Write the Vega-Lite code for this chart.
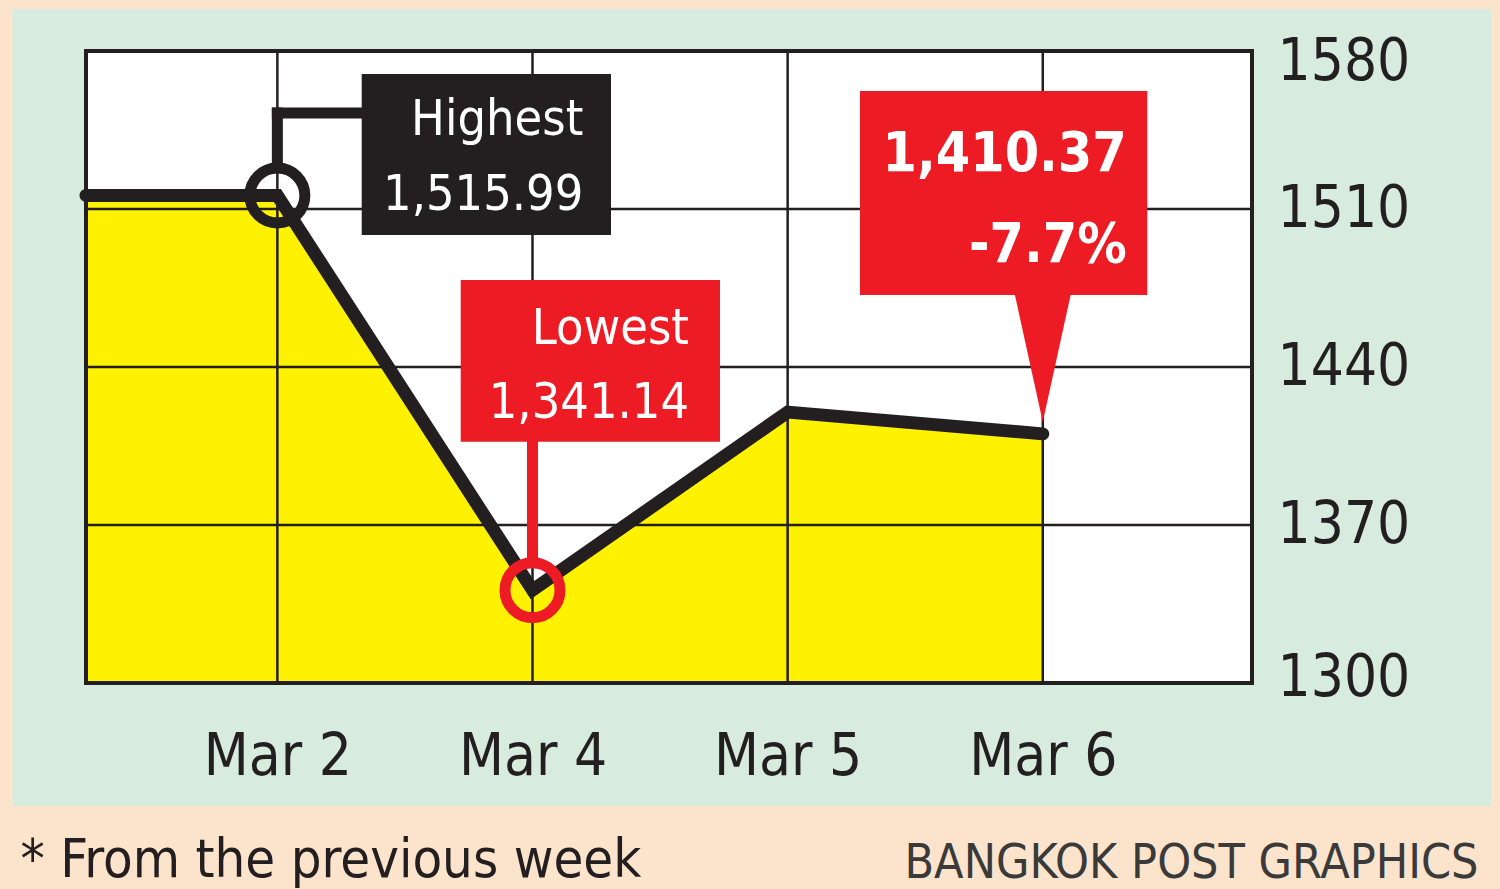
{
  "$schema": "https://vega.github.io/schema/vega-lite/v6.json",
  "width": 1166,
  "height": 632,
  "autosize": {"type": "none"},
  "padding": {"left": 86, "top": 51, "right": 248, "bottom": 206},
  "background": "#fce3cb",
  "config": {
    "view": {"stroke": null, "fill": null},
    "font": "DejaVu Sans Condensed, Liberation Sans Narrow, sans-serif"
  },
  "datasets": {
    "series": [
      {"i": 0.25, "v": 1516},
      {"i": 1, "v": 1515.99},
      {"i": 2, "v": 1341.14},
      {"i": 3, "v": 1420},
      {"i": 4, "v": 1410.37}
    ]
  },
  "layer": [
    {
      "data": {"values": [{}]},
      "mark": {"type": "rect", "color": "#d7ecde", "clip": false},
      "encoding": {
        "x": {"datum": -0.038, "type": "quantitative", "scale": {"domain": [0.25, 4.82], "nice": false, "zero": false}},
        "x2": {"datum": 5.759},
        "y": {"datum": 1598.6, "type": "quantitative", "scale": {"domain": [1300, 1580], "nice": false, "zero": false}},
        "y2": {"datum": 1245.5}
      }
    },
    {
      "data": {"values": [{}]},
      "mark": {"type": "rect", "color": "#ffffff"},
      "encoding": {
        "x": {"datum": 0.25, "type": "quantitative"},
        "x2": {"datum": 4.82},
        "y": {"datum": 1300, "type": "quantitative"},
        "y2": {"datum": 1580}
      }
    },
    {
      "data": {"name": "series"},
      "mark": {"type": "area", "color": "#fff200", "opacity": 1},
      "encoding": {
        "x": {
          "field": "i", "type": "quantitative",
          "scale": {"domain": [0.25, 4.82], "nice": false, "zero": false},
          "axis": {
            "zindex": 2,
            "values": [1, 2, 3, 4],
            "labelExpr": "datum.value == 1 ? 'Mar 2' : datum.value == 2 ? 'Mar 4' : datum.value == 3 ? 'Mar 5' : 'Mar 6'",
            "domain": false, "ticks": false, "tickSize": 0, "grid": false,
            "labelFontSize": 58, "labelColor": "#231f20", "labelPadding": 91,
            "labelBaseline": "alphabetic", "labelOverlap": false, "labelFlush": false,
            "title": "* From the previous week",
            "titleX": -66, "titleY": 193, "titleAlign": "left", "titleBaseline": "alphabetic",
            "titleFontSize": 54, "titleFontWeight": "normal", "titleColor": "#231f20"
          }
        },
        "y": {
          "field": "v", "type": "quantitative",
          "scale": {"domain": [1300, 1580], "nice": false, "zero": false},
          "axis": {
            "zindex": 2,
            "orient": "right",
            "values": [1300, 1370, 1440, 1510, 1580],
            "format": "d",
            "domain": false, "ticks": false, "tickSize": 0, "grid": false,
            "labelFontSize": 58, "labelColor": "#231f20", "labelPadding": 25,
            "labelBaseline": "middle", "labelOverlap": false,
            "labelOffset": {"condition": [{"test": "datum.value == 1580", "value": 11}, {"test": "datum.value == 1300", "value": -5}], "value": 0},
            "title": "BANGKOK POST GRAPHICS",
            "titleAngle": 0, "titleX": 226, "titleY": 826, "titleAlign": "right", "titleBaseline": "alphabetic",
            "titleFontSize": 48, "titleFontWeight": "normal", "titleColor": "#3a3a3a"
          }
        },
        "y2": {"datum": 1300}
      }
    },
    {
      "data": {"values": [{"i": 1}, {"i": 2}, {"i": 3}, {"i": 4}]},
      "mark": {"type": "rule", "color": "#231f20", "strokeWidth": 2.5},
      "encoding": {
        "x": {"field": "i", "type": "quantitative"},
        "y": {"datum": 1300, "type": "quantitative"},
        "y2": {"datum": 1580}
      }
    },
    {
      "data": {"values": [{"v": 1370}, {"v": 1440}, {"v": 1510}]},
      "mark": {"type": "rule", "color": "#231f20", "strokeWidth": 2.5},
      "encoding": {
        "y": {"field": "v", "type": "quantitative"},
        "x": {"datum": 0.25, "type": "quantitative"},
        "x2": {"datum": 4.82}
      }
    },
    {
      "data": {"values": [{}]},
      "mark": {"type": "rect", "fill": null, "fillOpacity": 0, "stroke": "#231f20", "strokeWidth": 4},
      "encoding": {
        "x": {"datum": 0.25, "type": "quantitative"},
        "x2": {"datum": 4.82},
        "y": {"datum": 1300, "type": "quantitative"},
        "y2": {"datum": 1580}
      }
    },
    {
      "data": {"name": "series"},
      "mark": {"type": "line", "color": "#231f20", "strokeWidth": 13, "strokeCap": "round", "strokeJoin": "miter"},
      "encoding": {
        "x": {"field": "i", "type": "quantitative"},
        "y": {"field": "v", "type": "quantitative"}
      }
    },
    {
      "data": {"values": [{}]},
      "mark": {"type": "rule", "color": "#231f20", "strokeWidth": 11, "strokeCap": "square"},
      "encoding": {
        "x": {"datum": 1, "type": "quantitative"},
        "y": {"datum": 1529, "type": "quantitative"},
        "y2": {"datum": 1552.5}
      }
    },
    {
      "data": {"values": [{}]},
      "mark": {"type": "rule", "color": "#231f20", "strokeWidth": 11, "strokeCap": "square"},
      "encoding": {
        "x": {"datum": 1, "type": "quantitative"},
        "x2": {"datum": 1.33},
        "y": {"datum": 1552.5, "type": "quantitative"}
      }
    },
    {
      "data": {"values": [{}]},
      "mark": {"type": "rule", "color": "#ed1c24", "strokeWidth": 11},
      "encoding": {
        "x": {"datum": 2, "type": "quantitative"},
        "y": {"datum": 1353, "type": "quantitative"},
        "y2": {"datum": 1408}
      }
    },
    {
      "data": {"values": [{}]},
      "mark": {"type": "point", "shape": "circle", "filled": false, "color": "#231f20", "size": 3025, "strokeWidth": 11, "opacity": 1},
      "encoding": {
        "x": {"datum": 1, "type": "quantitative"},
        "y": {"datum": 1515.99, "type": "quantitative"}
      }
    },
    {
      "data": {"values": [{}]},
      "mark": {"type": "point", "shape": "circle", "filled": false, "color": "#ed1c24", "size": 3025, "strokeWidth": 11, "opacity": 1},
      "encoding": {
        "x": {"datum": 2, "type": "quantitative"},
        "y": {"datum": 1341.14, "type": "quantitative"}
      }
    },
    {
      "data": {"values": [{}]},
      "mark": {"type": "rect", "color": "#231f20"},
      "encoding": {
        "x": {"datum": 1.3306, "type": "quantitative"},
        "x2": {"datum": 2.3077},
        "y": {"datum": 1569.8, "type": "quantitative"},
        "y2": {"datum": 1498.5}
      }
    },
    {
      "data": {"values": [{}]},
      "mark": {"type": "rect", "color": "#ed1c24"},
      "encoding": {
        "x": {"datum": 1.7186, "type": "quantitative"},
        "x2": {"datum": 2.7349},
        "y": {"datum": 1478.5, "type": "quantitative"},
        "y2": {"datum": 1406.9}
      }
    },
    {
      "data": {"values": [{}]},
      "mark": {"type": "rect", "color": "#ed1c24"},
      "encoding": {
        "x": {"datum": 3.2836, "type": "quantitative"},
        "x2": {"datum": 4.4097},
        "y": {"datum": 1562.3, "type": "quantitative"},
        "y2": {"datum": 1471.9}
      }
    },
    {
      "data": {"values": [{}]},
      "mark": {"type": "point", "shape": "M-0.45,-1.05L0.45,-1.05L0,1Z", "filled": true, "color": "#ed1c24", "size": 16129, "strokeWidth": 0, "opacity": 1},
      "encoding": {
        "x": {"datum": 4, "type": "quantitative"},
        "y": {"datum": 1443.8, "type": "quantitative"}
      }
    },
    {
      "data": {"values": [{}]},
      "mark": {"type": "text", "text": ["Highest", "1,515.99"], "color": "#ffffff", "fontSize": 50, "lineHeight": 75, "align": "right", "baseline": "alphabetic"},
      "encoding": {
        "x": {"datum": 2.199, "type": "quantitative"},
        "y": {"datum": 1542.8, "type": "quantitative"}
      }
    },
    {
      "data": {"values": [{}]},
      "mark": {"type": "text", "text": ["Lowest", "1,341.14"], "color": "#ffffff", "fontSize": 50, "lineHeight": 74, "align": "right", "baseline": "alphabetic"},
      "encoding": {
        "x": {"datum": 2.6134, "type": "quantitative"},
        "y": {"datum": 1450.2, "type": "quantitative"}
      }
    },
    {
      "data": {"values": [{}]},
      "mark": {"type": "text", "text": ["1,410.37", "-7.7%"], "color": "#ffffff", "fontSize": 55, "fontWeight": "bold", "lineHeight": 91, "align": "right", "baseline": "alphabetic"},
      "encoding": {
        "x": {"datum": 4.329, "type": "quantitative"},
        "y": {"datum": 1527, "type": "quantitative"}
      }
    }
  ]
}
